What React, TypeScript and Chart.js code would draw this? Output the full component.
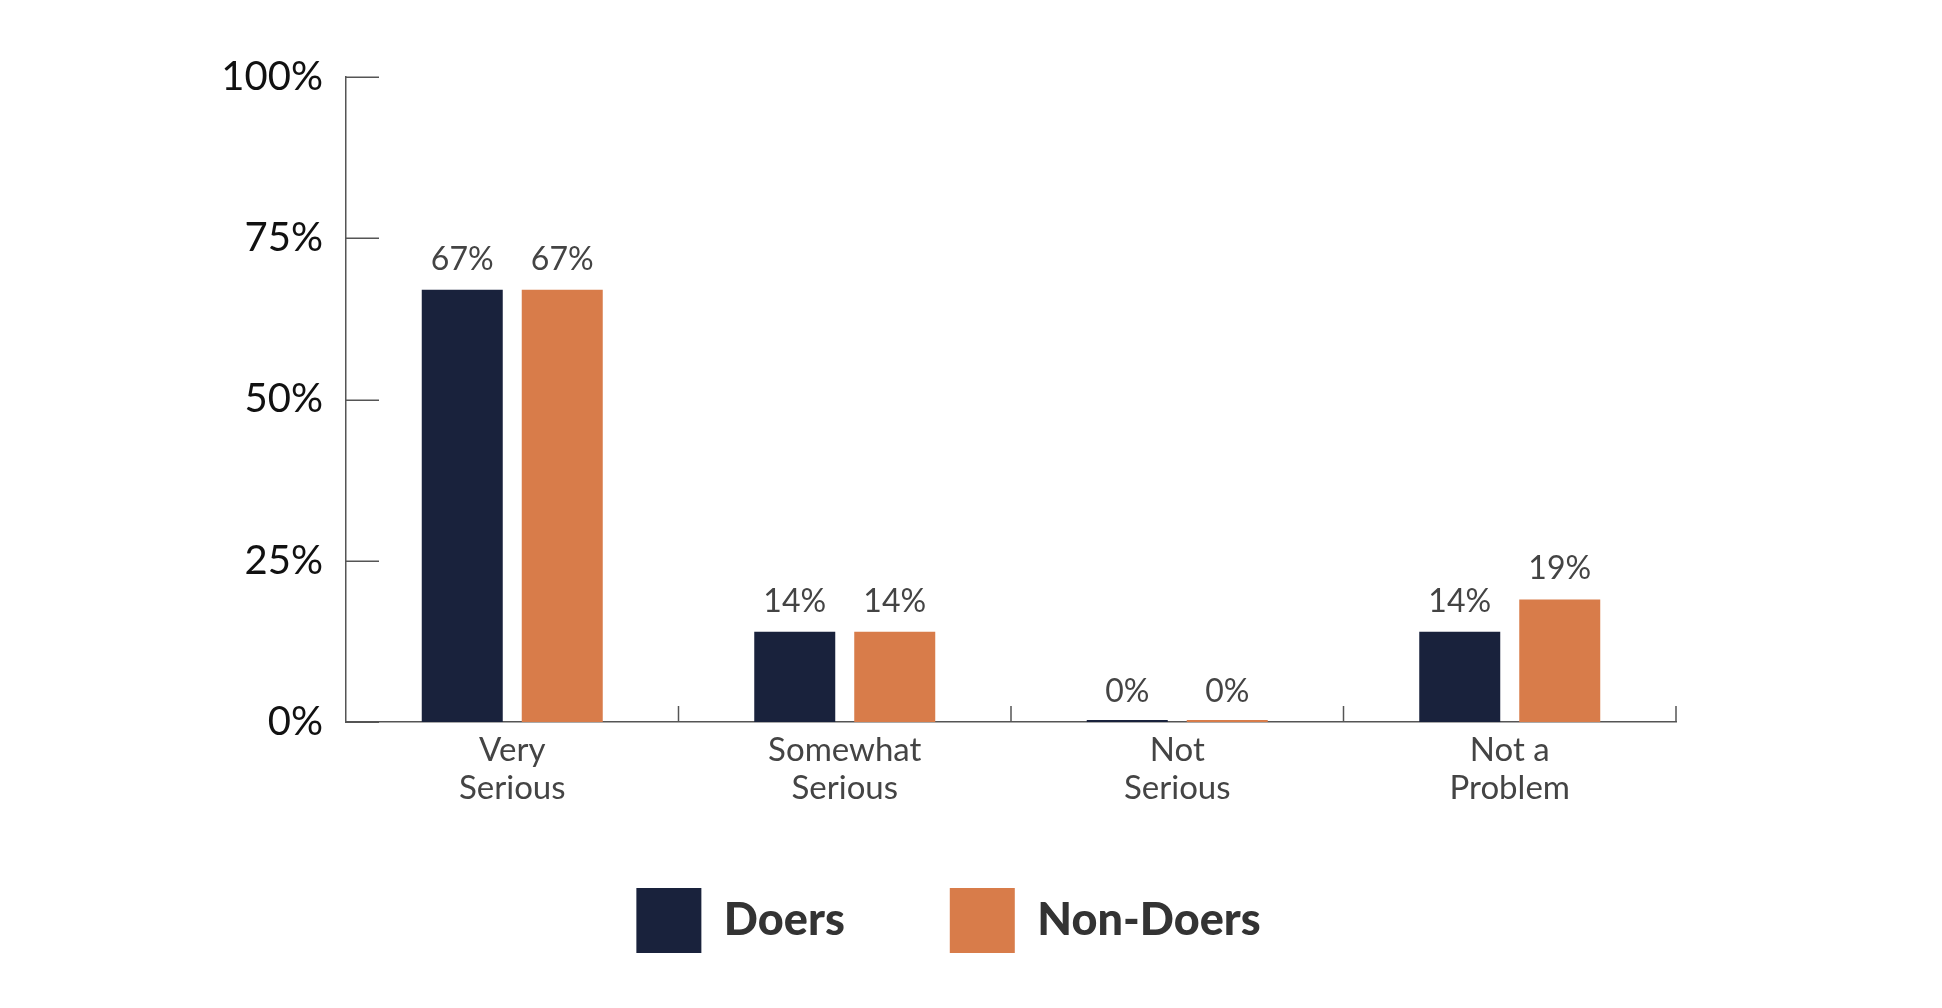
import React, { useEffect, useRef } from "react";
import { Chart, registerables } from "chart.js";

Chart.register(...registerables);

const categories: string[][] = [
  ["Very", "Serious"],
  ["Somewhat", "Serious"],
  ["Not", "Serious"],
  ["Not a", "Problem"],
];
const seriesNames: string[] = ["Doers", "Non-Doers"];
const doers: number[] = [67, 14, 0, 14];
const nonDoers: number[] = [67, 14, 0, 19];
const yMin = 0;
const yMax = 100;
const yStep = 25;

const NAVY = "#19223c";
const ORANGE = "#d87c4a";
const AXIS = "#555555";
const FONT = "Lato, 'Noto Sans', sans-serif";

const decorPlugin = {
  id: "decor",
  afterDatasetsDraw(chart: any) {
    const { ctx, chartArea, scales } = chart;
    const xs = scales.x;
    const ys = scales.y;
    ctx.save();
    ctx.strokeStyle = AXIS;
    ctx.lineWidth = 1.5;
    // inward y ticks
    ys.ticks.forEach((t: any) => {
      const py = Math.round(ys.getPixelForValue(t.value)) + 0.25;
      ctx.beginPath();
      ctx.moveTo(chartArea.left, py);
      ctx.lineTo(chartArea.left + 33, py);
      ctx.stroke();
    });
    // category dividers going up from the x axis
    const n = xs.ticks.length;
    for (let i = 1; i <= n; i++) {
      const px = xs.getPixelForValue(i - 0.5);
      ctx.beginPath();
      ctx.moveTo(px, chartArea.bottom);
      ctx.lineTo(px, chartArea.bottom - 16);
      ctx.stroke();
    }
    // value labels
    ctx.fillStyle = "#444444";
    ctx.font = `32px ${FONT}`;
    ctx.textAlign = "center";
    ctx.textBaseline = "alphabetic";
    chart.data.datasets.forEach((ds: any, di: number) => {
      const meta = chart.getDatasetMeta(di);
      meta.data.forEach((el: any, j: number) => {
        const v = ds.data[j];
        ctx.fillText(`${v}%`, el.x, ys.getPixelForValue(v) - 20);
      });
    });
    ctx.restore();
  },
};

export default function App() {
  const canvasRef = useRef<HTMLCanvasElement | null>(null);

  useEffect(() => {
    if (!canvasRef.current) return;
    const chart = new Chart(canvasRef.current, {
      type: "bar",
      data: {
        labels: categories,
        datasets: [
          {
            label: seriesNames[0],
            data: doers,
            backgroundColor: NAVY,
            borderWidth: 0,
            minBarLength: 2,
            categoryPercentage: 0.6015,
            barPercentage: 0.81,
          },
          {
            label: seriesNames[1],
            data: nonDoers,
            backgroundColor: ORANGE,
            borderWidth: 0,
            minBarLength: 2,
            categoryPercentage: 0.6015,
            barPercentage: 0.81,
          },
        ],
      },
      options: {
        animation: false,
        responsive: true,
        maintainAspectRatio: false,
        layout: { padding: { left: 213, right: 258, top: 69, bottom: 37 } },
        plugins: {
          tooltip: { enabled: false },
          legend: {
            display: true,
            position: "bottom",
            align: "center",
            labels: {
              boxWidth: 65,
              boxHeight: 65,
              padding: 105,
              color: "#333333",
              font: { family: FONT, size: 45, weight: "900" as any },
            },
          },
        },
        scales: {
          x: {
            grid: { display: false, drawTicks: false },
            border: { display: true, color: AXIS, width: 1.5 },
            ticks: {
              color: "#444444",
              padding: 9,
              maxRotation: 0,
              autoSkip: false,
              font: { family: FONT, size: 33, lineHeight: 1.16 },
            },
            afterFit: (scale: any) => {
              scale.height = 61;
              scale._computeLabelArea = () => undefined;
            },
          },
          y: {
            min: yMin,
            max: yMax,
            grid: { display: false, drawTicks: false },
            border: { display: true, color: AXIS, width: 1.5 },
            ticks: {
              stepSize: yStep,
              color: "#111111",
              padding: 23,
              font: { family: FONT, size: 40 },
              callback: (v: any) => `${v}%`,
            },
            afterFit: (scale: any) => {
              scale.width = 125;
              scale._computeLabelArea = () => undefined;
            },
          },
        },
      },
      plugins: [decorPlugin],
    });
    return () => chart.destroy();
  }, []);

  return (
    <div style={{ position: "relative", width: "1926px", height: "992px" }}>
      <canvas ref={canvasRef} />
    </div>
  );
}
